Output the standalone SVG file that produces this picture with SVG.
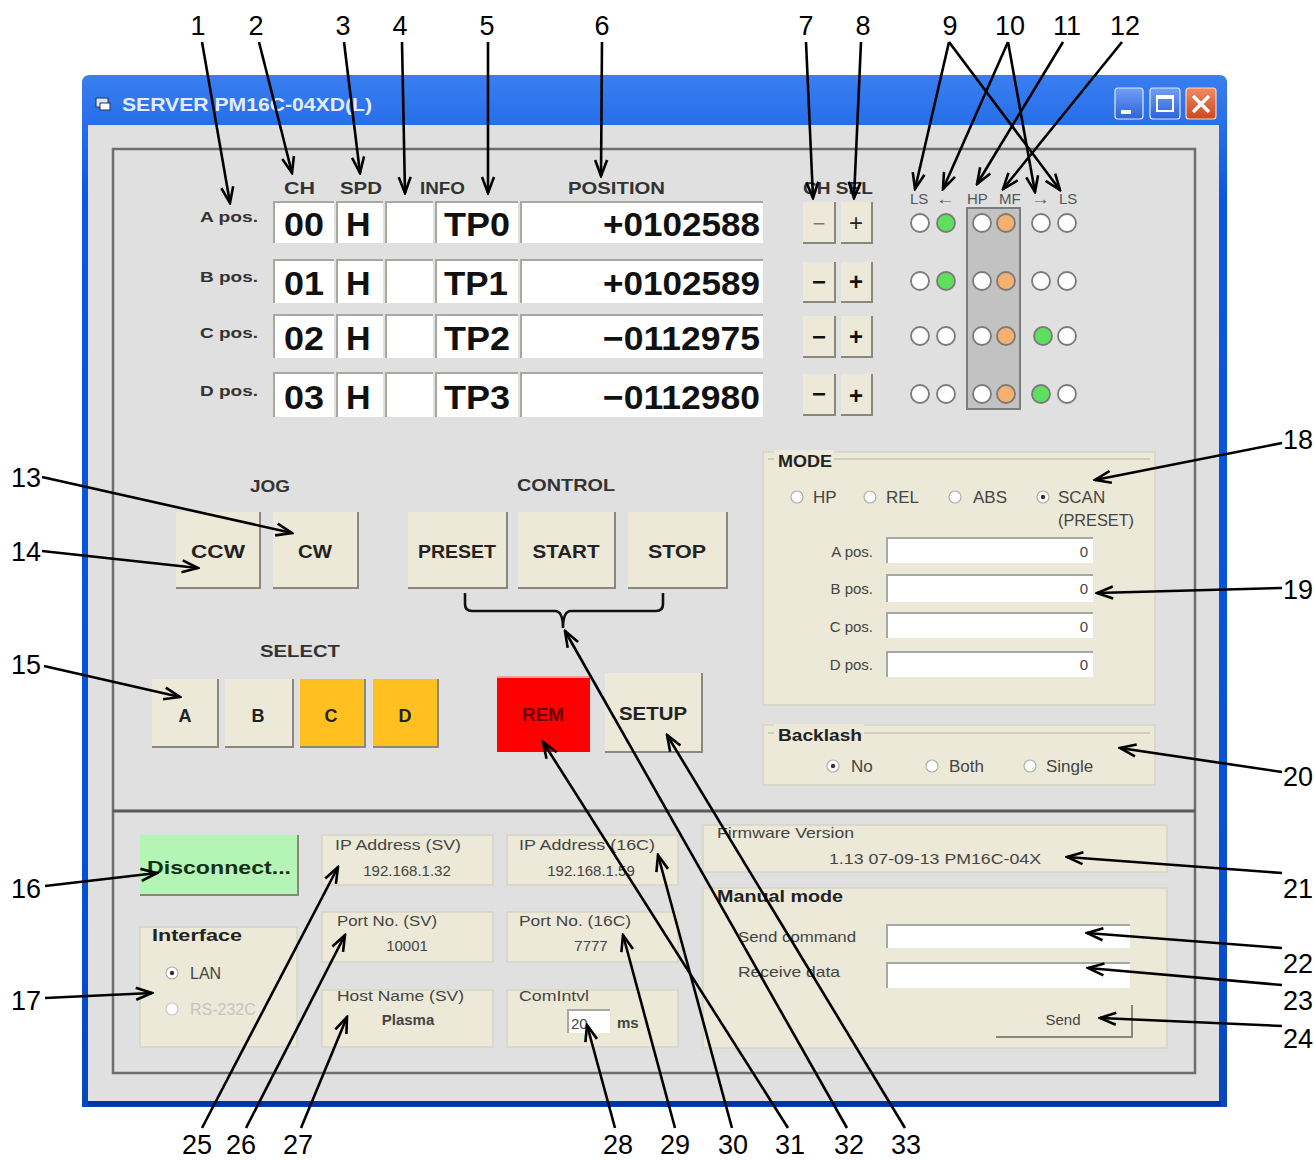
<svg xmlns="http://www.w3.org/2000/svg" width="1314" height="1160" viewBox="0 0 1314 1160">
<defs>
<linearGradient id="tb" x1="0" y1="0" x2="0" y2="1">
<stop offset="0" stop-color="#3a7ef0"/><stop offset="0.12" stop-color="#0a58e0"/><stop offset="0.8" stop-color="#0650d4"/><stop offset="1" stop-color="#0846bc"/>
</linearGradient>
<linearGradient id="wb" x1="0" y1="0" x2="0" y2="1">
<stop offset="0" stop-color="#6f9ff5"/><stop offset="1" stop-color="#2f62d8"/>
</linearGradient>
<linearGradient id="cb" x1="0" y1="0" x2="0" y2="1">
<stop offset="0" stop-color="#f08a60"/><stop offset="1" stop-color="#cc4620"/>
</linearGradient>
<marker id="ah" viewBox="0 0 20 16" markerWidth="20" markerHeight="16" refX="18" refY="8" orient="auto" markerUnits="userSpaceOnUse">
<path d="M2,2 L18,8 L2,14" fill="none" stroke="#000" stroke-width="2.6"/>
</marker>
</defs>
<style>
.btn{fill:#ece9d8;stroke:none}
.bsh{fill:none;stroke:#8a887c;stroke-width:2}
.inp{fill:#fff}
.ish{fill:none;stroke:#a8a8a0;stroke-width:2}
.big{font-family:"Liberation Sans",Arial,sans-serif;font-weight:bold;font-size:34px;fill:#111}
.hdr{font-family:"Liberation Sans",Arial,sans-serif;font-weight:bold;font-size:17px;fill:#333}
.lbl{font-family:"Liberation Sans",Arial,sans-serif;font-weight:bold;font-size:15px;fill:#333}
.led{fill:#fff;stroke:#7a7a7a;stroke-width:1.8}
.ledt{font-family:"Liberation Sans",Arial,sans-serif;font-size:15px;fill:#555}
.bt{font-family:"Liberation Sans",Arial,sans-serif;font-weight:bold;font-size:18px;fill:#222;text-anchor:middle}
.grp{fill:#ece9d8;stroke:#d6d3c4;stroke-width:1.5}
.sm{font-family:"Liberation Sans",Arial,sans-serif;font-size:15px;fill:#444}
.smb{font-family:"Liberation Sans",Arial,sans-serif;font-size:17px;font-weight:bold;fill:#222}
.rad{fill:#fff;stroke:#b0b0a8;stroke-width:1.2}
.num{font-family:"Liberation Sans",Arial,sans-serif;font-size:27px;fill:#000}
.con line,.con path{stroke:#000;stroke-width:2.6;fill:none}
</style>
<rect width="1314" height="1160" fill="#fff"/>

<g id="window">
<path d="M82,83 Q82,75 90,75 L1219,75 Q1227,75 1227,83 L1227,1107 L82,1107 Z" fill="url(#tb)"/>
<rect x="88" y="125" width="1131" height="976" fill="#e0e0e0"/>
<rect x="88" y="1101" width="1133" height="5" fill="#0033a8"/>
<g id="titleicon"><rect x="96" y="98" width="12" height="9" fill="#d8e4f8" stroke="#203060" stroke-width="1"/><rect x="100" y="103" width="10" height="7" fill="#fff" stroke="#203060" stroke-width="1"/></g>
<text x="122" y="111" font-family="Liberation Sans,Arial,sans-serif" font-weight="bold" font-size="19" fill="#e4ebfa" textLength="250" lengthAdjust="spacingAndGlyphs">SERVER PM16C-04XD(L)</text>
<g id="btnmin"><rect x="1115" y="88" width="28" height="31" rx="3" fill="url(#wb)" stroke="#dfe8ff" stroke-width="1.2"/><rect x="1121" y="110" width="10" height="4" fill="#fff"/></g>
<g id="btnmax"><rect x="1150" y="88" width="30" height="31" rx="3" fill="url(#wb)" stroke="#dfe8ff" stroke-width="1.2"/><rect x="1157" y="96" width="16" height="15" fill="none" stroke="#fff" stroke-width="2"/><rect x="1157" y="96" width="16" height="3" fill="#fff"/></g>
<g id="btnclose"><rect x="1186" y="88" width="30" height="31" rx="3" fill="url(#cb)" stroke="#f8d8c8" stroke-width="1.2"/><path d="M1193,96 L1209,112 M1209,96 L1193,112" stroke="#fff" stroke-width="3.5"/></g>
<rect x="113" y="149" width="1082" height="924" fill="none" stroke="#6e6e6e" stroke-width="2.5"/>
<line x1="113" y1="811" x2="1195" y2="811" stroke="#5a5a5a" stroke-width="3"/>
</g>

<g id="headers">
<text class="hdr" x="284" y="194" textLength="31" lengthAdjust="spacingAndGlyphs">CH</text>
<text class="hdr" x="340" y="194" textLength="42" lengthAdjust="spacingAndGlyphs">SPD</text>
<text class="hdr" x="420" y="194" textLength="45" lengthAdjust="spacingAndGlyphs">INFO</text>
<text class="hdr" x="568" y="194" textLength="97" lengthAdjust="spacingAndGlyphs">POSITION</text>
<text class="hdr" x="803" y="194" textLength="70" lengthAdjust="spacingAndGlyphs">CH SEL</text>
</g>

<g id="row-a">
<text class="lbl" x="200" y="222" textLength="58" lengthAdjust="spacingAndGlyphs">A pos.</text>
<rect class="inp" x="274" y="202" width="60" height="41"/><path class="ish" d="M274,243 L274,202 L334,202"/>
<rect class="inp" x="337" y="202" width="46" height="41"/><path class="ish" d="M337,243 L337,202 L383,202"/>
<rect class="inp" x="386" y="202" width="47" height="41"/><path class="ish" d="M386,243 L386,202 L433,202"/>
<rect class="inp" x="436" y="202" width="82" height="41"/><path class="ish" d="M436,243 L436,202 L518,202"/>
<rect class="inp" x="521" y="202" width="242" height="41"/><path class="ish" d="M521,243 L521,202 L763,202"/>
<text class="big" x="284" y="236" textLength="40" lengthAdjust="spacingAndGlyphs">00</text>
<text class="big" x="346" y="236">H</text>
<text class="big" x="444" y="236" textLength="66" lengthAdjust="spacingAndGlyphs">TP0</text>
<text class="big" x="603" y="236" textLength="157" lengthAdjust="spacingAndGlyphs">+0102588</text>
</g>
<g id="row-b">
<text class="lbl" x="200" y="282" textLength="58" lengthAdjust="spacingAndGlyphs">B pos.</text>
<rect class="inp" x="274" y="260" width="60" height="43"/><path class="ish" d="M274,303 L274,260 L334,260"/>
<rect class="inp" x="337" y="260" width="46" height="43"/><path class="ish" d="M337,303 L337,260 L383,260"/>
<rect class="inp" x="386" y="260" width="47" height="43"/><path class="ish" d="M386,303 L386,260 L433,260"/>
<rect class="inp" x="436" y="260" width="82" height="43"/><path class="ish" d="M436,303 L436,260 L518,260"/>
<rect class="inp" x="521" y="260" width="242" height="43"/><path class="ish" d="M521,303 L521,260 L763,260"/>
<text class="big" x="284" y="295" textLength="40" lengthAdjust="spacingAndGlyphs">01</text>
<text class="big" x="346" y="295">H</text>
<text class="big" x="444" y="295" textLength="64" lengthAdjust="spacingAndGlyphs">TP1</text>
<text class="big" x="603" y="295" textLength="157" lengthAdjust="spacingAndGlyphs">+0102589</text>
</g>
<g id="row-c">
<text class="lbl" x="200" y="338" textLength="58" lengthAdjust="spacingAndGlyphs">C pos.</text>
<rect class="inp" x="274" y="315" width="60" height="43"/><path class="ish" d="M274,358 L274,315 L334,315"/>
<rect class="inp" x="337" y="315" width="46" height="43"/><path class="ish" d="M337,358 L337,315 L383,315"/>
<rect class="inp" x="386" y="315" width="47" height="43"/><path class="ish" d="M386,358 L386,315 L433,315"/>
<rect class="inp" x="436" y="315" width="82" height="43"/><path class="ish" d="M436,358 L436,315 L518,315"/>
<rect class="inp" x="521" y="315" width="242" height="43"/><path class="ish" d="M521,358 L521,315 L763,315"/>
<text class="big" x="284" y="350" textLength="40" lengthAdjust="spacingAndGlyphs">02</text>
<text class="big" x="346" y="350">H</text>
<text class="big" x="444" y="350" textLength="66" lengthAdjust="spacingAndGlyphs">TP2</text>
<text class="big" x="603" y="350" textLength="157" lengthAdjust="spacingAndGlyphs">−0112975</text>
</g>
<g id="row-d">
<text class="lbl" x="200" y="396" textLength="58" lengthAdjust="spacingAndGlyphs">D pos.</text>
<rect class="inp" x="274" y="373" width="60" height="44"/><path class="ish" d="M274,417 L274,373 L334,373"/>
<rect class="inp" x="337" y="373" width="46" height="44"/><path class="ish" d="M337,417 L337,373 L383,373"/>
<rect class="inp" x="386" y="373" width="47" height="44"/><path class="ish" d="M386,417 L386,373 L433,373"/>
<rect class="inp" x="436" y="373" width="82" height="44"/><path class="ish" d="M436,417 L436,373 L518,373"/>
<rect class="inp" x="521" y="373" width="242" height="44"/><path class="ish" d="M521,417 L521,373 L763,373"/>
<text class="big" x="284" y="409" textLength="40" lengthAdjust="spacingAndGlyphs">03</text>
<text class="big" x="346" y="409">H</text>
<text class="big" x="444" y="409" textLength="66" lengthAdjust="spacingAndGlyphs">TP3</text>
<text class="big" x="603" y="409" textLength="157" lengthAdjust="spacingAndGlyphs">−0112980</text>
</g>

<g id="chsel">
<rect class="btn" x="803" y="202" width="32" height="41"/><path class="bsh" d="M803,243 L835,243 L835,202"/>
<rect class="btn" x="841" y="202" width="31" height="41"/><path class="bsh" d="M841,243 L872,243 L872,202"/>
<text x="819" y="231" font-family="Liberation Sans,Arial,sans-serif" font-size="22" fill="#777" text-anchor="middle">−</text>
<text x="856" y="231" font-family="Liberation Sans,Arial,sans-serif" font-size="24" fill="#222" text-anchor="middle">+</text>
<rect class="btn" x="803" y="262" width="32" height="40"/><path class="bsh" d="M803,302 L835,302 L835,262"/>
<rect class="btn" x="841" y="262" width="31" height="40"/><path class="bsh" d="M841,302 L872,302 L872,262"/>
<text x="819" y="290" font-family="Liberation Sans,Arial,sans-serif" font-weight="bold" font-size="24" fill="#111" text-anchor="middle">−</text>
<text x="856" y="290" font-family="Liberation Sans,Arial,sans-serif" font-weight="bold" font-size="24" fill="#111" text-anchor="middle">+</text>
<rect class="btn" x="803" y="316" width="32" height="41"/><path class="bsh" d="M803,357 L835,357 L835,316"/>
<rect class="btn" x="841" y="316" width="31" height="41"/><path class="bsh" d="M841,357 L872,357 L872,316"/>
<text x="819" y="345" font-family="Liberation Sans,Arial,sans-serif" font-weight="bold" font-size="24" fill="#111" text-anchor="middle">−</text>
<text x="856" y="345" font-family="Liberation Sans,Arial,sans-serif" font-weight="bold" font-size="24" fill="#111" text-anchor="middle">+</text>
<rect class="btn" x="803" y="374" width="32" height="41"/><path class="bsh" d="M803,415 L835,415 L835,374"/>
<rect class="btn" x="841" y="374" width="31" height="41"/><path class="bsh" d="M841,415 L872,415 L872,374"/>
<text x="819" y="402" font-family="Liberation Sans,Arial,sans-serif" font-weight="bold" font-size="24" fill="#111" text-anchor="middle">−</text>
<text x="856" y="404" font-family="Liberation Sans,Arial,sans-serif" font-weight="bold" font-size="24" fill="#111" text-anchor="middle">+</text>
</g>

<g id="leds">
<rect x="967" y="208" width="53" height="201" fill="#c2c2c2" stroke="#7c7c7c" stroke-width="2"/>
<text class="ledt" x="910" y="204">LS</text>
<text class="ledt" x="936" y="204" textLength="19" lengthAdjust="spacingAndGlyphs">←</text>
<text class="ledt" x="967" y="204">HP</text>
<text class="ledt" x="999" y="204">MF</text>
<text class="ledt" x="1031" y="204" textLength="19" lengthAdjust="spacingAndGlyphs">→</text>
<text class="ledt" x="1059" y="204">LS</text>
<circle class="led" cx="920" cy="223" r="9"/><circle class="led" cx="946" cy="223" r="9" style="fill:#5ee05e"/><circle class="led" cx="982" cy="223" r="9"/><circle class="led" cx="1006" cy="223" r="9" style="fill:#f5b070"/><circle class="led" cx="1041" cy="223" r="9"/><circle class="led" cx="1067" cy="223" r="9"/>
<circle class="led" cx="920" cy="281" r="9"/><circle class="led" cx="946" cy="281" r="9" style="fill:#5ee05e"/><circle class="led" cx="982" cy="281" r="9"/><circle class="led" cx="1006" cy="281" r="9" style="fill:#f5b070"/><circle class="led" cx="1041" cy="281" r="9"/><circle class="led" cx="1067" cy="281" r="9"/>
<circle class="led" cx="920" cy="336" r="9"/><circle class="led" cx="946" cy="336" r="9"/><circle class="led" cx="982" cy="336" r="9"/><circle class="led" cx="1006" cy="336" r="9" style="fill:#f5b070"/><circle class="led" cx="1043" cy="336" r="9" style="fill:#5ee05e"/><circle class="led" cx="1067" cy="336" r="9"/>
<circle class="led" cx="920" cy="394" r="9"/><circle class="led" cx="946" cy="394" r="9"/><circle class="led" cx="982" cy="394" r="9"/><circle class="led" cx="1006" cy="394" r="9" style="fill:#f5b070"/><circle class="led" cx="1041" cy="394" r="9" style="fill:#5ee05e"/><circle class="led" cx="1067" cy="394" r="9"/>
</g>

<g id="jog">
<text class="hdr" x="270" y="492" text-anchor="middle" textLength="40" lengthAdjust="spacingAndGlyphs">JOG</text>
<rect class="btn" x="176" y="512" width="84" height="76"/><path class="bsh" d="M176,588 L260,588 L260,512"/>
<text class="bt" x="218" y="558" textLength="54" lengthAdjust="spacingAndGlyphs">CCW</text>
<rect class="btn" x="273" y="512" width="85" height="76"/><path class="bsh" d="M273,588 L358,588 L358,512"/>
<text class="bt" x="315" y="558" textLength="34" lengthAdjust="spacingAndGlyphs">CW</text>
</g>

<g id="control">
<text class="hdr" x="566" y="491" text-anchor="middle" textLength="98" lengthAdjust="spacingAndGlyphs">CONTROL</text>
<rect class="btn" x="408" y="512" width="99" height="76"/><path class="bsh" d="M408,588 L507,588 L507,512"/>
<text class="bt" x="457" y="558" textLength="78" lengthAdjust="spacingAndGlyphs">PRESET</text>
<rect class="btn" x="518" y="512" width="97" height="76"/><path class="bsh" d="M518,588 L615,588 L615,512"/>
<text class="bt" x="566" y="558" textLength="67" lengthAdjust="spacingAndGlyphs">START</text>
<rect class="btn" x="628" y="512" width="99" height="76"/><path class="bsh" d="M628,588 L727,588 L727,512"/>
<text class="bt" x="677" y="558" textLength="58" lengthAdjust="spacingAndGlyphs">STOP</text>
</g>

<g id="select">
<text class="hdr" x="300" y="657" text-anchor="middle" textLength="80" lengthAdjust="spacingAndGlyphs">SELECT</text>
<rect class="btn" x="152" y="679" width="66" height="68"/><path class="bsh" d="M152,747 L218,747 L218,679"/>
<text class="bt" x="185" y="722">A</text>
<rect class="btn" x="225" y="679" width="68" height="68"/><path class="bsh" d="M225,747 L293,747 L293,679"/>
<text class="bt" x="258" y="722">B</text>
<rect x="300" y="679" width="65" height="68" fill="#ffc020"/><path class="bsh" d="M300,747 L365,747 L365,679"/>
<text class="bt" x="331" y="722">C</text>
<rect x="373" y="679" width="65" height="68" fill="#ffc020"/><path class="bsh" d="M373,747 L438,747 L438,679"/>
<text class="bt" x="405" y="722">D</text>
</g>

<g id="rem">
<rect x="497" y="677" width="93" height="75" fill="#ff0000"/><path d="M497,677 L590,677" stroke="#f0a0a0" stroke-width="2"/>
<text class="bt" x="543" y="721" style="fill:#600" textLength="42" lengthAdjust="spacingAndGlyphs">REM</text>
</g>
<g id="setup">
<rect class="btn" x="605" y="673" width="97" height="79"/><path class="bsh" d="M605,752 L702,752 L702,673"/>
<text class="bt" x="653" y="720" textLength="68" lengthAdjust="spacingAndGlyphs">SETUP</text>
</g>

<g id="mode">
<rect class="grp" x="763" y="452" width="392" height="253"/>
<line x1="768" y1="459" x2="1150" y2="459" stroke="#c8c5b4" stroke-width="1.5"/>
<rect x="774" y="450" width="60" height="18" fill="#ece9d8"/>
<text class="smb" x="778" y="467" textLength="54" lengthAdjust="spacingAndGlyphs">MODE</text>
<circle class="rad" cx="797" cy="497" r="6"/><text class="sm" x="813" y="503" style="font-size:17px">HP</text>
<circle class="rad" cx="870" cy="497" r="6"/><text class="sm" x="886" y="503" style="font-size:17px">REL</text>
<circle class="rad" cx="955" cy="497" r="6"/><text class="sm" x="973" y="503" style="font-size:17px">ABS</text>
<circle class="rad" cx="1043" cy="497" r="6"/><circle cx="1043" cy="497" r="2.2" fill="#333"/><text class="sm" x="1058" y="503" style="font-size:17px">SCAN</text>
<text class="sm" x="1058" y="526" style="font-size:17px" textLength="76" lengthAdjust="spacingAndGlyphs">(PRESET)</text>
<text class="sm" x="873" y="557" text-anchor="end">A pos.</text>
<rect class="inp" x="887" y="538" width="206" height="25"/><path class="ish" d="M887,563 L887,538 L1093,538"/><text class="sm" x="1088" y="557" text-anchor="end">0</text>
<text class="sm" x="873" y="594" text-anchor="end">B pos.</text>
<rect class="inp" x="887" y="575" width="206" height="27"/><path class="ish" d="M887,602 L887,575 L1093,575"/><text class="sm" x="1088" y="594" text-anchor="end">0</text>
<text class="sm" x="873" y="632" text-anchor="end">C pos.</text>
<rect class="inp" x="887" y="613" width="206" height="25"/><path class="ish" d="M887,638 L887,613 L1093,613"/><text class="sm" x="1088" y="632" text-anchor="end">0</text>
<text class="sm" x="873" y="670" text-anchor="end">D pos.</text>
<rect class="inp" x="887" y="652" width="206" height="25"/><path class="ish" d="M887,677 L887,652 L1093,652"/><text class="sm" x="1088" y="670" text-anchor="end">0</text>
</g>

<g id="backlash">
<rect class="grp" x="763" y="725" width="392" height="60"/>
<line x1="768" y1="733" x2="1150" y2="733" stroke="#c8c5b4" stroke-width="1.5"/>
<rect x="774" y="724" width="90" height="18" fill="#ece9d8"/>
<text class="smb" x="778" y="741" textLength="84" lengthAdjust="spacingAndGlyphs">Backlash</text>
<circle class="rad" cx="833" cy="766" r="6"/><circle cx="833" cy="766" r="2.2" fill="#333"/><text class="sm" x="851" y="772" style="font-size:17px">No</text>
<circle class="rad" cx="932" cy="766" r="6"/><text class="sm" x="949" y="772" style="font-size:17px">Both</text>
<circle class="rad" cx="1030" cy="766" r="6"/><text class="sm" x="1046" y="772" style="font-size:17px">Single</text>
</g>

<g id="disconnect">
<rect x="140" y="835" width="158" height="60" fill="#b4f4b4"/><path class="bsh" d="M140,895 L298,895 L298,835"/>
<text x="147" y="874" font-family="Liberation Sans,Arial,sans-serif" font-weight="bold" font-size="19" fill="#143014" textLength="144" lengthAdjust="spacingAndGlyphs">Disconnect...</text>
</g>
<g id="interface">
<rect class="grp" x="140" y="927" width="157" height="120"/>
<text class="smb" x="152" y="941" textLength="90" lengthAdjust="spacingAndGlyphs">Interface</text>
<circle class="rad" cx="172" cy="973" r="6"/><circle cx="172" cy="973" r="2.2" fill="#333"/><text class="sm" x="190" y="979" style="font-size:16px">LAN</text>
<circle class="rad" cx="172" cy="1009" r="6" style="stroke:#ccc"/><text class="sm" x="190" y="1015" style="font-size:16px;fill:#c4c4c0">RS-232C</text>
</g>

<g id="ip-sv">
<rect class="grp" x="322" y="835" width="171" height="50"/>
<text class="sm" x="335" y="850" textLength="126" lengthAdjust="spacingAndGlyphs">IP Address (SV)</text>
<text class="sm" x="407" y="876" text-anchor="middle">192.168.1.32</text>
</g>
<g id="port-sv">
<rect class="grp" x="322" y="912" width="171" height="50"/>
<text class="sm" x="337" y="926" textLength="100" lengthAdjust="spacingAndGlyphs">Port No. (SV)</text>
<text class="sm" x="407" y="951" text-anchor="middle">10001</text>
</g>
<g id="host-sv">
<rect class="grp" x="322" y="990" width="171" height="57"/>
<text class="sm" x="337" y="1001" textLength="127" lengthAdjust="spacingAndGlyphs">Host Name (SV)</text>
<text class="sm" x="408" y="1025" text-anchor="middle" style="font-weight:bold">Plasma</text>
</g>
<g id="ip-16c">
<rect class="grp" x="507" y="835" width="171" height="50"/>
<text class="sm" x="519" y="850" textLength="136" lengthAdjust="spacingAndGlyphs">IP Address (16C)</text>
<text class="sm" x="591" y="876" text-anchor="middle">192.168.1.59</text>
</g>
<g id="port-16c">
<rect class="grp" x="507" y="912" width="171" height="50"/>
<text class="sm" x="519" y="926" textLength="112" lengthAdjust="spacingAndGlyphs">Port No. (16C)</text>
<text class="sm" x="591" y="951" text-anchor="middle">7777</text>
</g>
<g id="comintvl">
<rect class="grp" x="507" y="990" width="171" height="57"/>
<text class="sm" x="519" y="1001" textLength="70" lengthAdjust="spacingAndGlyphs">ComIntvl</text>
<rect class="inp" x="568" y="1010" width="42" height="23"/><path class="ish" d="M568,1033 L568,1010 L610,1010"/>
<text class="sm" x="571" y="1029">20</text>
<text class="sm" x="617" y="1028" style="font-weight:bold">ms</text>
</g>
<g id="firmware">
<rect class="grp" x="703" y="825" width="464" height="47"/>
<text class="sm" x="717" y="838" textLength="137" lengthAdjust="spacingAndGlyphs">Firmware Version</text>
<text class="sm" x="935" y="864" text-anchor="middle" textLength="212" lengthAdjust="spacingAndGlyphs">1.13 07-09-13 PM16C-04X</text>
</g>
<g id="manual">
<rect class="grp" x="703" y="888" width="464" height="160"/>
<text class="smb" x="717" y="902" textLength="126" lengthAdjust="spacingAndGlyphs">Manual mode</text>
<text class="sm" x="856" y="942" text-anchor="end" textLength="118" lengthAdjust="spacingAndGlyphs">Send command</text>
<rect class="inp" x="887" y="925" width="243" height="23"/><path class="ish" d="M887,948 L887,925 L1130,925"/>
<text class="sm" x="840" y="977" text-anchor="end" textLength="102" lengthAdjust="spacingAndGlyphs">Receive data</text>
<rect class="inp" x="887" y="963" width="243" height="25"/><path class="ish" d="M887,988 L887,963 L1130,963"/>
<rect class="btn" x="996" y="1005" width="136" height="32"/><path class="bsh" d="M996,1037 L1132,1037 L1132,1005"/>
<text class="sm" x="1063" y="1025" text-anchor="middle">Send</text>
</g>

<g id="bracket">
<path d="M465,593 L465,604 Q465,611 472,611 L555,611 Q563,611 563,628 Q563,611 571,611 L656,611 Q663,611 663,604 L663,593" fill="none" stroke="#111" stroke-width="2.6"/>
</g>

<g id="connectors" class="con">
<line x1="202" y1="42" x2="230" y2="203" marker-end="url(#ah)"/>
<line x1="259" y1="42" x2="292" y2="173" marker-end="url(#ah)"/>
<line x1="344" y1="42" x2="360" y2="173" marker-end="url(#ah)"/>
<line x1="402" y1="42" x2="405" y2="193" marker-end="url(#ah)"/>
<line x1="488" y1="42" x2="488" y2="193" marker-end="url(#ah)"/>
<line x1="602" y1="42" x2="601" y2="176" marker-end="url(#ah)"/>
<line x1="806" y1="42" x2="813" y2="198" marker-end="url(#ah)"/>
<line x1="861" y1="42" x2="854" y2="198" marker-end="url(#ah)"/>
<line x1="949" y1="42" x2="915" y2="189" marker-end="url(#ah)"/>
<line x1="949" y1="42" x2="1060" y2="190" marker-end="url(#ah)"/>
<line x1="1008" y1="42" x2="943" y2="189" marker-end="url(#ah)"/>
<line x1="1008" y1="42" x2="1035" y2="192" marker-end="url(#ah)"/>
<line x1="1063" y1="42" x2="977" y2="184" marker-end="url(#ah)"/>
<line x1="1122" y1="42" x2="1003" y2="189" marker-end="url(#ah)"/>
<line x1="42" y1="477" x2="292" y2="533" marker-end="url(#ah)"/>
<line x1="42" y1="551" x2="198" y2="568" marker-end="url(#ah)"/>
<line x1="44" y1="666" x2="180" y2="697" marker-end="url(#ah)"/>
<line x1="45" y1="886" x2="157" y2="873" marker-end="url(#ah)"/>
<line x1="45" y1="998" x2="152" y2="993" marker-end="url(#ah)"/>
<line x1="1282" y1="443" x2="1095" y2="480" marker-end="url(#ah)"/>
<line x1="1282" y1="588" x2="1097" y2="593" marker-end="url(#ah)"/>
<line x1="1282" y1="772" x2="1120" y2="748" marker-end="url(#ah)"/>
<line x1="1282" y1="873" x2="1067" y2="857" marker-end="url(#ah)"/>
<line x1="1282" y1="948" x2="1087" y2="933" marker-end="url(#ah)"/>
<line x1="1282" y1="985" x2="1088" y2="968" marker-end="url(#ah)"/>
<line x1="1282" y1="1026" x2="1100" y2="1018" marker-end="url(#ah)"/>
<line x1="202" y1="1128" x2="338" y2="867" marker-end="url(#ah)"/>
<line x1="246" y1="1128" x2="345" y2="935" marker-end="url(#ah)"/>
<line x1="301" y1="1128" x2="347" y2="1017" marker-end="url(#ah)"/>
<line x1="615" y1="1128" x2="587" y2="1025" marker-end="url(#ah)"/>
<line x1="675" y1="1128" x2="623" y2="935" marker-end="url(#ah)"/>
<line x1="732" y1="1128" x2="658" y2="855" marker-end="url(#ah)"/>
<line x1="788" y1="1128" x2="543" y2="742" marker-end="url(#ah)"/>
<line x1="847" y1="1128" x2="565" y2="631" marker-end="url(#ah)"/>
<line x1="905" y1="1128" x2="667" y2="735" marker-end="url(#ah)"/>
</g>

<g id="callouts">
<text class="num" x="198" y="35" text-anchor="middle">1</text>
<text class="num" x="256" y="35" text-anchor="middle">2</text>
<text class="num" x="343" y="35" text-anchor="middle">3</text>
<text class="num" x="400" y="35" text-anchor="middle">4</text>
<text class="num" x="487" y="35" text-anchor="middle">5</text>
<text class="num" x="602" y="35" text-anchor="middle">6</text>
<text class="num" x="806" y="35" text-anchor="middle">7</text>
<text class="num" x="863" y="35" text-anchor="middle">8</text>
<text class="num" x="950" y="35" text-anchor="middle">9</text>
<text class="num" x="1010" y="35" text-anchor="middle">10</text>
<text class="num" x="1067" y="35" text-anchor="middle">11</text>
<text class="num" x="1125" y="35" text-anchor="middle">12</text>
<text class="num" x="26" y="487" text-anchor="middle">13</text>
<text class="num" x="26" y="561" text-anchor="middle">14</text>
<text class="num" x="26" y="674" text-anchor="middle">15</text>
<text class="num" x="26" y="898" text-anchor="middle">16</text>
<text class="num" x="26" y="1010" text-anchor="middle">17</text>
<text class="num" x="1298" y="449" text-anchor="middle">18</text>
<text class="num" x="1298" y="599" text-anchor="middle">19</text>
<text class="num" x="1298" y="786" text-anchor="middle">20</text>
<text class="num" x="1298" y="898" text-anchor="middle">21</text>
<text class="num" x="1298" y="973" text-anchor="middle">22</text>
<text class="num" x="1298" y="1010" text-anchor="middle">23</text>
<text class="num" x="1298" y="1048" text-anchor="middle">24</text>
<text class="num" x="197" y="1154" text-anchor="middle">25</text>
<text class="num" x="241" y="1154" text-anchor="middle">26</text>
<text class="num" x="298" y="1154" text-anchor="middle">27</text>
<text class="num" x="618" y="1154" text-anchor="middle">28</text>
<text class="num" x="675" y="1154" text-anchor="middle">29</text>
<text class="num" x="733" y="1154" text-anchor="middle">30</text>
<text class="num" x="790" y="1154" text-anchor="middle">31</text>
<text class="num" x="849" y="1154" text-anchor="middle">32</text>
<text class="num" x="906" y="1154" text-anchor="middle">33</text>
</g>
</svg>
